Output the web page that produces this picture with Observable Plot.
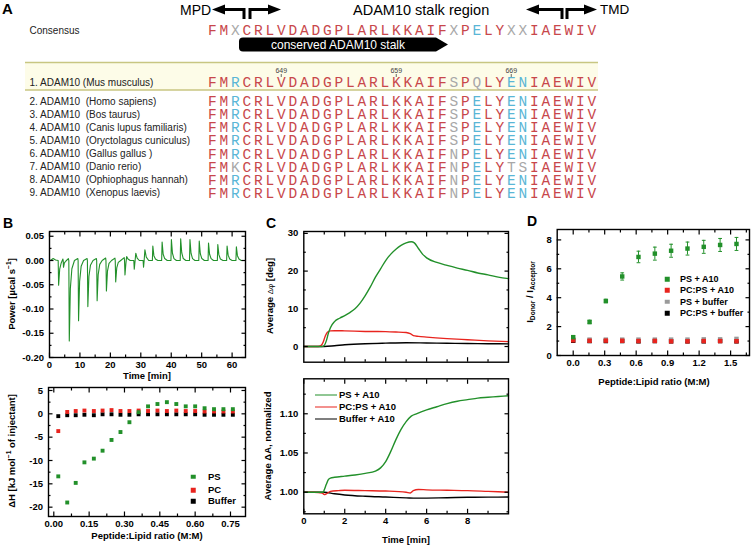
<!DOCTYPE html>
<html><head><meta charset="utf-8">
<script src="https://cdn.jsdelivr.net/npm/d3@7"></script>
<script src="https://cdn.jsdelivr.net/npm/@observablehq/plot@0.6"></script>
<style>
body{margin:0;background:#fff;}
#fig{position:relative;width:754px;height:545px;overflow:hidden;font-family:"Liberation Sans",Arial,sans-serif;background:#fff;}
#fig svg.layer{position:absolute;left:0;top:0;}
.lbl{position:absolute;white-space:nowrap;color:#000;line-height:1;}
.b{font-weight:bold;}
.rot{transform:translate(-50%,-50%) rotate(-90deg);}
.ctr{transform:translate(-50%,-50%);}
.lft{transform:translate(0,-50%);}
sub{font-size:70%;vertical-align:-2px;line-height:0;}
sup{font-size:70%;vertical-align:4px;line-height:0;}
</style></head><body><div id="fig"></div>
<script>
const W = 754, H = 545;
const fig = document.getElementById("fig");

// ================= DATA =================
// Panel A: alignment
const consensus = "FMXCRLVDADGPLARLKKAIFXPELYXXIAEWIV";
const speciesNames = [
  "1. ADAM10 (Mus musculus)",
  "2. ADAM10\u00a0 (Homo sapiens)",
  "3. ADAM10\u00a0 (Bos taurus)",
  "4. ADAM10\u00a0 (Canis lupus familiaris)",
  "5. ADAM10\u00a0 (Oryctolagus cuniculus)",
  "6. ADAM10\u00a0 (Gallus gallus )",
  "7. ADAM10\u00a0 (Danio rerio)",
  "8. ADAM10\u00a0 (Ophiophagus hannah)",
  "9. ADAM10\u00a0 (Xenopus laevis)"
];
const sequences = [
  "FMRCRLVDADGPLARLKKAIFSPQLYENIAEWIV",
  "FMRCRLVDADGPLARLKKAIFSPELYENIAEWIV",
  "FMRCRLVDADGPLARLKKAIFSPELYENIAEWIV",
  "FMRCRLVDADGPLARLKKAIFSPELYENIAEWIV",
  "FMRCRLVDADGPLARLKKAIFSPELYENIAEWIV",
  "FMRCRLVDADGPLARLKKAIFNPELYENIAEWIV",
  "FMKCRLVDADGPLARLKKAIFNPELYTSIAEWIV",
  "FMRCRLVDADGPLARLKKAIFNPELYENIAEWIV",
  "FMRCRLVDADGPLARLKKAIFNPELYENIAEWIV"
];
const positionLabels = [649, 659, 669];
const positionIndex = [6, 16, 26];

// Panel B top: ITC power trace [time min, power µcal/s]
const itcTrace = [
  [0.3,0],[1.2,0.004],[2.0,0.001],[2.85,0],[3.0,-0.051],[3.35,-0.018],[3.85,-0.005],[4.4,0.003],
  [4.5,0],[4.6,-0.014],[4.9,-0.005],[5.4,-0.001],[6.2,0.004],
  [6.35,0],[6.5,-0.166],[6.85,-0.058],[7.35,-0.017],[8.2,0],[9.3,0.004],
  [9.4,0],[9.55,-0.124],[9.9,-0.043],[10.4,-0.012],[11.2,0],[12.35,0.004],
  [12.45,0],[12.6,-0.095],[12.95,-0.033],[13.45,-0.010],[14.3,0],[15.4,0.004],
  [15.5,0],[15.65,-0.083],[16.0,-0.029],[16.5,-0.008],[17.3,0],[18.45,0.005],
  [18.55,0],[18.7,-0.063],[19.05,-0.022],[19.55,-0.006],[20.4,0],[21.5,0.005],
  [21.6,0],[21.75,-0.044],[22.1,-0.015],[22.6,-0.004],[23.4,0],[24.55,0.006],
  [24.65,0],[24.8,-0.030],[25.1,-0.006],[25.35,0.008],[25.8,0.003],[26.5,0],
  [27.7,0],[27.85,-0.018],[28.1,-0.002],[28.35,0.015],[28.8,0.005],[29.5,0],
  [30.75,0],[30.9,-0.014],[31.1,0.000],[31.35,0.022],[31.8,0.007],[32.6,0],
  [33.8,0],[33.95,0.030],[34.3,0.010],[34.8,0.003],[35.6,0],
  [36.85,0],[37.0,0.038],[37.35,0.013],[37.85,0.004],[38.7,0],
  [39.9,0],[40.05,0.043],[40.4,0.015],[40.9,0.004],[41.7,0],
  [42.95,0],[43.1,0.045],[43.45,0.016],[43.95,0.004],[44.8,0],
  [46.0,0],[46.15,0.043],[46.5,0.015],[47.0,0.004],[47.8,0],
  [49.05,0],[49.2,0.040],[49.55,0.014],[50.05,0.004],[50.9,0],
  [52.1,0],[52.25,0.036],[52.6,0.013],[53.1,0.004],[53.9,0],
  [55.15,0],[55.3,0.033],[55.65,0.012],[56.15,0.003],[57.0,0],
  [58.2,0],[58.35,0.030],[58.7,0.011],[59.2,0.003],[60.0,0],
  [61.25,0],[61.4,0.028],[61.75,0.010],[62.25,0.003],[63.0,0],[64.0,0]
];

// Panel B bottom: integrated heats
const ratioB = [0.019,0.057,0.093,0.130,0.170,0.207,0.245,0.283,0.321,0.360,0.400,0.440,0.480,0.520,0.560,0.600,0.640,0.680,0.720,0.760];
const heatPS = [-13.4,-19.0,-14.8,-10.4,-9.6,-7.9,-5.6,-3.9,-1.8,0.35,1.6,2.1,2.5,2.1,1.6,1.6,1.2,1.0,1.0,1.0];
const heatPC = [-3.7,0.4,0.6,0.7,0.6,0.7,0.8,0.6,0.6,0.7,0.6,0.7,0.6,0.7,0.6,0.6,0.5,0.5,0.5,0.5];
const heatBuffer = [-0.5,-0.3,-0.3,-0.2,-0.3,-0.1,-0.1,-0.2,-0.2,-0.1,-0.1,-0.1,-0.1,-0.1,-0.1,-0.1,-0.2,-0.2,-0.2,-0.2];

// Panel C top: phase [min, deg]
const phasePS = [[0,0],[0.9,0],[1.0,0.3],[1.1,1.5],[1.2,3.5],[1.3,5],[1.5,6.6],[1.75,7.5],[2,8.2],[2.25,9],[2.5,10],[2.75,11.5],[3,13.5],[3.25,15.8],[3.5,18.4],[3.75,20.6],[4,22.8],[4.25,24.5],[4.5,25.8],[4.75,26.8],[5,27.5],[5.25,27.8],[5.4,27.5],[5.6,26],[5.8,24.5],[6,23.5],[6.5,22.3],[7,21.5],[7.5,20.8],[8,20.2],[8.5,19.5],[9,19],[9.5,18.4],[10,18]];
const phasePCPS = [[0,0],[0.7,0],[0.85,0.3],[0.95,1.2],[1.05,2.8],[1.15,3.8],[1.3,4.15],[1.5,4.2],[2,4.15],[3,4.0],[4,3.95],[4.5,3.85],[5,3.7],[5.2,3.4],[5.35,2.9],[5.6,2.7],[6,2.5],[7,2.1],[8,1.8],[9,1.5],[10,1.3]];
const phaseBuffer = [[0,0],[1,0],[1.5,0.2],[2,0.45],[3,0.75],[4,0.9],[5,1.0],[6,0.95],[7,0.85],[8,0.8],[9,0.75],[10,0.7]];

// Panel C bottom: normalized amplitude [min, ratio]
const ampPS = [[0,1.0],[0.95,1.0],[1.0,1.003],[1.1,1.01],[1.2,1.016],[1.3,1.018],[1.5,1.019],[2,1.0205],[2.5,1.022],[3,1.024],[3.5,1.027],[3.75,1.031],[4,1.039],[4.25,1.052],[4.5,1.067],[4.75,1.08],[5,1.09],[5.25,1.097],[5.5,1.1],[6,1.105],[6.5,1.109],[7,1.113],[7.5,1.116],[8,1.118],[8.5,1.12],[9,1.121],[9.5,1.122],[10,1.123]];
const ampPCPS = [[0,1.0],[0.5,1.0],[0.9,0.999],[1.0,0.997],[1.1,0.998],[1.3,1.001],[1.7,1.002],[2,1.0025],[3,1.002],[4,1.0015],[5,1.0],[5.2,0.999],[5.35,1.002],[5.6,1.0035],[6,1.003],[7,1.0025],[8,1.002],[9,1.001],[10,1.0]];
const ampBuffer = [[0,1.0],[1,1.0],[1.5,0.998],[2,0.9965],[3,0.9948],[4,0.9938],[5,0.9928],[5.5,0.9924],[6,0.9925],[7,0.993],[8,0.9935],[9,0.9937],[10,0.9938]];

// Panel D: FRET ratio
const ratioD = [0,0.156,0.311,0.467,0.622,0.778,0.933,1.089,1.244,1.4,1.556];
const fretPSA10 = [1.27,2.32,3.77,5.47,6.82,7.05,7.25,7.4,7.52,7.65,7.72];
const fretPSA10Err = [0.1,0.12,0.12,0.25,0.4,0.45,0.45,0.45,0.45,0.45,0.45];
const fretPCPSA10 = [1.05,1.02,1.03,1.02,1.0,1.01,0.98,0.98,1.0,1.0,0.99];
const fretPSBuffer = [1.12,1.1,1.1,1.1,1.1,1.1,1.1,1.1,1.12,1.12,1.15];
const fretPCPSBuffer = [1.02,1.0,1.0,1.0,0.98,1.0,0.98,0.98,0.98,1.0,0.98];

// ================= STYLE =================
const GREEN = "#22902a", RED = "#e8241e", BLACK = "#000", GRAY = "#9a9a9a";
const SEQ_RED = "#c8474b", SEQ_CYAN = "#5ab6d6", SEQ_GRAY = "#a8a8a8";

function addSvg(svg){ svg.classList.add("layer"); fig.appendChild(svg); }
function label(html, x, y, cls, size){
  const d = document.createElement("div");
  d.className = "lbl " + cls;
  d.style.left = x + "px"; d.style.top = y + "px";
  d.style.fontSize = (size || 9) + "px";
  d.innerHTML = html;
  fig.appendChild(d);
  return d;
}

// ================= PANEL A =================
(function(){
  const ns = "http://www.w3.org/2000/svg";
  const deco = document.createElementNS(ns, "svg");
  deco.setAttribute("width", W); deco.setAttribute("height", H);
  deco.setAttribute("class", "layer");
  deco.innerHTML = `
    <rect x="25" y="62.5" width="573" height="27.5" fill="#fdfce8"/>
    <line x1="25" x2="598" y1="62.5" y2="62.5" stroke="#c8c682" stroke-width="1.6"/>
    <line x1="25" x2="598" y1="90" y2="90" stroke="#c8c682" stroke-width="1.6"/>
    <polyline points="222,9.5 244,9.5 244,19" fill="none" stroke="#000" stroke-width="3"/>
    <polygon points="212,9.5 225,4.5 225,14.5" fill="#000"/>
    <polyline points="250,19 250,9.5 270,9.5" fill="none" stroke="#000" stroke-width="3"/>
    <polygon points="281,9.5 268,4.5 268,14.5" fill="#000"/>
    <polyline points="536,9.5 562,9.5 562,19" fill="none" stroke="#000" stroke-width="3"/>
    <polygon points="526,9.5 539,4.5 539,14.5" fill="#000"/>
    <polyline points="567,19 567,9.5 587,9.5" fill="none" stroke="#000" stroke-width="3"/>
    <polygon points="597,9.5 584,4.5 584,14.5" fill="#000"/>
    <path d="M243,37.5 H436 L448,44.5 L436,51.5 H243 Q239,51.5 239,47.5 V41.5 Q239,37.5 243,37.5 Z" fill="#000"/>
  `;
  fig.appendChild(deco);

  const rowY = r => r === 0 ? 30 : r === 1 ? 82 : 101 + (r - 2) * 13.1;
  const letters = [];
  for (let i = 0; i < consensus.length; i++) {
    const ch = consensus[i];
    const n = sequences.filter(s => s[i] === ch).length;
    letters.push({row: 0, i, ch, color: ch === "X" ? SEQ_GRAY : n === sequences.length ? SEQ_RED : SEQ_CYAN});
  }
  sequences.forEach((s, r) => {
    for (let i = 0; i < s.length; i++) {
      const n = sequences.filter(q => q[i] === s[i]).length;
      letters.push({row: r + 1, i, ch: s[i], color: n === sequences.length ? SEQ_RED : n >= 7 ? SEQ_CYAN : SEQ_GRAY});
    }
  });
  const names = [{row: 0, name: "Consensus"}, ...speciesNames.map((name, k) => ({row: k + 1, name}))];

  addSvg(Plot.plot({
    width: W, height: H, margin: 0,
    x: {type: "linear", domain: [0, consensus.length], range: [206, 597], axis: null},
    y: {type: "identity", axis: null},
    style: {background: "transparent", overflow: "visible"},
    marks: [
      Plot.text(letters, {x: d => d.i + 0.5, y: d => rowY(d.row), text: "ch", fill: d => d.color,
        fontFamily: "'Courier New','Liberation Mono',monospace", fontSize: 14.5}),
      Plot.text(names, {frameAnchor: "left", dx: 29, y: d => rowY(d.row), text: "name", textAnchor: "start",
        fontFamily: "'Liberation Sans',Arial,sans-serif", fontSize: 10, fill: "#222"}),
      Plot.text(positionLabels, {x: (d, k) => positionIndex[k] + 0.5, y: 70, text: d => String(d),
        fontSize: 7, fill: "#444", fontFamily: "'Liberation Sans',Arial,sans-serif"}),
      Plot.ruleX(positionIndex, {x: d => d + 0.5, y1: 74, y2: 77, stroke: "#444", strokeWidth: 0.8})
    ]
  }));

  label("A", 2, 8, "b lft", 15);
  label("MPD", 180, 10, "lft", 14);
  label("ADAM10 stalk region", 353, 10, "lft", 14.5);
  label("TMD", 600, 10, "lft", 13.5);
  const ban = label("conserved ADAM10 stalk", 338, 44.5, "ctr", 12);
  ban.style.color = "#fff";
})();

// ================= FRAMED PLOT HELPER =================
function framed(cfg){
  const [L, T, R, B] = cfg.box;
  const empty = () => "";
  const common = {label: null, strokeWidth: 1.2};
  const axes = [
    Plot.axisX(cfg.xMinor, {...common, anchor: "bottom", tickSize: -2.5, tickFormat: empty}),
    Plot.axisX(cfg.xMajor, {...common, anchor: "bottom", tickSize: -4.5, tickPadding: 8, tickFormat: cfg.xFmt || empty}),
    Plot.axisX(cfg.xMinor, {...common, anchor: "top", tickSize: -2.5, tickFormat: empty}),
    Plot.axisX(cfg.xMajor, {...common, anchor: "top", tickSize: -4.5, tickFormat: empty}),
    Plot.axisY(cfg.yMinor, {...common, anchor: "left", tickSize: -2.5, tickFormat: empty}),
    Plot.axisY(cfg.yMajor, {...common, anchor: "left", tickSize: -4.5, tickPadding: 10, tickFormat: cfg.yFmt}),
    Plot.axisY(cfg.yMinor, {...common, anchor: "right", tickSize: -2.5, tickFormat: empty}),
    Plot.axisY(cfg.yMajor, {...common, anchor: "right", tickSize: -4.5, tickFormat: empty})
  ];
  addSvg(Plot.plot({
    width: W, height: H,
    marginLeft: L, marginTop: T, marginRight: W - R, marginBottom: H - B,
    x: {domain: cfg.xDomain, label: null},
    y: {domain: cfg.yDomain, label: null},
    style: {background: "transparent", overflow: "visible", fontFamily: "'Liberation Sans',Arial,sans-serif",
      fontSize: "9.5px", fontWeight: "bold", color: "#000"},
    marks: [...cfg.marks, Plot.frame({stroke: "#000", strokeWidth: 1.4}), ...axes]
  }));
}
const range = (a, b, s) => d3.range(a, b + s / 2, s).map(v => +v.toFixed(6));

// ================= PANEL B top =================
framed({
  box: [49, 231, 245, 357],
  xDomain: [0, 64.4], yDomain: [-0.2, 0.0598],
  xMajor: range(0, 60, 10), xMinor: range(5, 55, 10),
  yMajor: range(-0.2, 0.05, 0.05), yMinor: range(-0.175, 0.025, 0.05),
  xFmt: d => String(d), yFmt: d => d.toFixed(2),
  marks: [Plot.line(itcTrace, {x: d => d[0], y: d => d[1], stroke: GREEN, strokeWidth: 1.1})]
});
label("B", 3, 223, "b lft", 14);
label("Time [min]", 147, 375.5, "b ctr", 9.5);
label("Power [µcal s<sup>−1</sup>]", 12, 294, "b rot", 9.5);

// ================= PANEL B bottom =================
const heatRows = ratioB.map((x, k) => ({x, ps: heatPS[k], pc: heatPC[k], buf: heatBuffer[k]}));
framed({
  box: [48, 387, 245, 516],
  xDomain: [-0.0225, 0.8137], yDomain: [-22.0, 5.64],
  xMajor: range(0, 0.75, 0.15), xMinor: range(0.075, 0.675, 0.15),
  yMajor: range(-20, 5, 5), yMinor: range(-17.5, 2.5, 5),
  xFmt: d => d.toFixed(2), yFmt: d => String(d),
  marks: [
    Plot.dot(heatRows, {x: "x", y: "buf", symbol: "square", r: 2.2, fill: BLACK}),
    Plot.dot(heatRows, {x: "x", y: "pc", symbol: "square", r: 2.2, fill: RED}),
    Plot.dot(heatRows, {x: "x", y: "ps", symbol: "square", r: 2.2, fill: GREEN})
  ]
});
label("ΔH [kJ mol<sup>−1</sup> of injectant]", 12, 451, "b rot", 9.5);
label("Peptide:Lipid ratio (M:M)", 147, 536, "b ctr", 9.5);
[["PS", GREEN, 476.7], ["PC", RED, 490], ["Buffer", BLACK, 501]].forEach(([t, c, y]) => {
  const sw = label("", 193, y, "ctr", 9); sw.style.width = "4.5px"; sw.style.height = "4.5px"; sw.style.background = c;
  label(t, 208, y, "b lft", 9.5);
});

// ================= PANEL C top =================
framed({
  box: [303.3, 231, 508, 361.7],
  xDomain: [0, 10], yDomain: [-4.16, 30.5],
  xMajor: range(2, 8, 2), xMinor: range(1, 9, 2),
  yMajor: range(0, 30, 10), yMinor: range(5, 25, 10),
  xFmt: null, yFmt: d => String(d),
  marks: [
    Plot.line(phaseBuffer, {x: d => d[0], y: d => d[1], stroke: BLACK, strokeWidth: 1.4, curve: "monotone-x"}),
    Plot.line(phasePCPS, {x: d => d[0], y: d => d[1], stroke: RED, strokeWidth: 1.4, curve: "monotone-x"}),
    Plot.line(phasePS, {x: d => d[0], y: d => d[1], stroke: GREEN, strokeWidth: 1.4, curve: "monotone-x"})
  ]
});
label("C", 266, 223, "b lft", 14);
label("Average <span style='font-weight:normal;font-size:8px'>Δφ</span> [deg]", 270, 296, "b rot", 9.5);

// ================= PANEL C bottom =================
framed({
  box: [303.3, 378.3, 508, 513.3],
  xDomain: [0, 10], yDomain: [0.97245, 1.1446],
  xMajor: range(0, 8, 2), xMinor: range(1, 9, 2),
  yMajor: [1.0, 1.05, 1.1], yMinor: [0.975, 1.025, 1.075, 1.125],
  xFmt: d => String(d), yFmt: d => d.toFixed(2),
  marks: [
    Plot.line(ampBuffer, {x: d => d[0], y: d => d[1], stroke: BLACK, strokeWidth: 1.4, curve: "monotone-x"}),
    Plot.line(ampPCPS, {x: d => d[0], y: d => d[1], stroke: RED, strokeWidth: 1.4, curve: "monotone-x"}),
    Plot.line(ampPS, {x: d => d[0], y: d => d[1], stroke: GREEN, strokeWidth: 1.4, curve: "monotone-x"})
  ]
});
label("Average ΔA, normalized", 268, 446, "b rot", 9.5);
label("Time [min]", 406, 540, "b ctr", 9.5);
[["PS + A10", GREEN, 395], ["PC:PS + A10", RED, 407.3], ["Buffer + A10", BLACK, 419.3]].forEach(([t, c, y]) => {
  const sw = label("", 315, y, "lft", 9); sw.style.width = "22px"; sw.style.height = "0"; sw.style.borderTop = "1.6px solid " + c;
  label(t, 339, y, "b lft", 9.5);
});

// ================= PANEL D =================
const fretRows = ratioD.map((x, k) => ({x, ps: fretPSA10[k], err: fretPSA10Err[k], pc: fretPCPSA10[k], psb: fretPSBuffer[k], pcb: fretPCPSBuffer[k]}));
framed({
  box: [556.7, 229, 749, 355],
  xDomain: [-0.1525, 1.68], yDomain: [0, 8.72],
  xMajor: range(0, 1.5, 0.3), xMinor: range(0.15, 1.65, 0.3),
  yMajor: range(0, 8, 2), yMinor: range(1, 7, 2),
  xFmt: d => d.toFixed(1), yFmt: d => String(d),
  marks: [
    Plot.ruleX(fretRows, {x: "x", y1: d => d.ps - d.err, y2: d => d.ps + d.err, stroke: GREEN, strokeWidth: 1}),
    Plot.link(fretRows, {x1: d => d.x - 0.018, x2: d => d.x + 0.018, y1: d => d.ps + d.err, y2: d => d.ps + d.err, stroke: GREEN, strokeWidth: 1}),
    Plot.link(fretRows, {x1: d => d.x - 0.018, x2: d => d.x + 0.018, y1: d => d.ps - d.err, y2: d => d.ps - d.err, stroke: GREEN, strokeWidth: 1}),
    Plot.dot(fretRows, {x: "x", y: "pcb", symbol: "square", r: 2.5, fill: BLACK}),
    Plot.dot(fretRows, {x: "x", y: "psb", symbol: "square", r: 2.5, fill: GRAY}),
    Plot.dot(fretRows, {x: "x", y: "pc", symbol: "square", r: 2.5, fill: RED}),
    Plot.dot(fretRows, {x: "x", y: "ps", symbol: "square", r: 2.5, fill: GREEN})
  ]
});
label("D", 527, 221, "b lft", 14);
label("I<sub>Donor</sub> / I<sub>Acceptor</sub>", 530, 292, "b rot", 9.5);
label("Peptide:Lipid ratio (M:M)", 654, 382, "b ctr", 9.5);
[["PS + A10", GREEN, 279], ["PC:PS + A10", RED, 290.3], ["PS + buffer", GRAY, 301.7], ["PC:PS + buffer", BLACK, 313.3]].forEach(([t, c, y]) => {
  const sw = label("", 667, y, "ctr", 9); sw.style.width = "4.5px"; sw.style.height = "4.5px"; sw.style.background = c;
  label(t, 680, y, "b lft", 9);
});
</script></body></html>
